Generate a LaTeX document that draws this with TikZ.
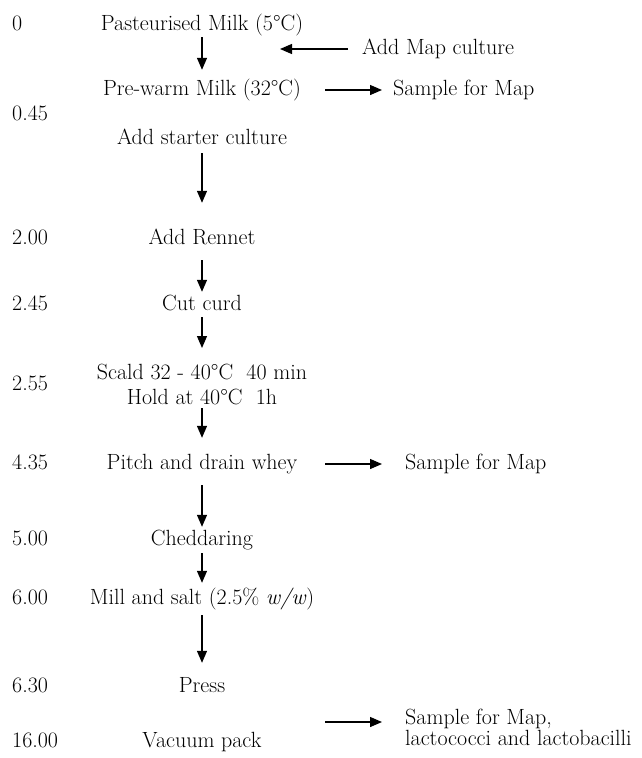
\documentclass[tikz,border=0pt]{standalone}
\usepackage{fontspec}
\usetikzlibrary{arrows.meta}
\begin{document}
\begin{tikzpicture}[x=1pt,y=-1pt,
  lbl/.style={font=\rmfamily\fontsize{22}{25}\selectfont, inner sep=0pt, text height=15pt, text depth=5pt},
  main/.style={lbl, anchor=base},
  tm/.style={lbl, anchor=base west},
  side/.style={lbl, anchor=base west},
  arr/.style={line width=1.3pt, -{Triangle[length=12pt,width=10pt]}}]
\useasboundingbox[fill=white] (0,0) rectangle (642,758);

% time labels
\node[tm] (t1) at (12,30) {0};
\node[tm] (t2) at (12,120) {0.45};
\node[tm] (t3) at (12,244) {2.00};
\node[tm] (t4) at (12,310) {2.45};
\node[tm] (t5) at (12,390) {2.55};
\node[tm] (t6) at (12,469) {4.35};
\node[tm] (t7) at (12,545) {5.00};
\node[tm] (t8) at (12,604) {6.00};
\node[tm] (t9) at (12,692) {6.30};
\node[tm] (t10) at (12,747) {16.00};

% main steps
\node[main] (m1) at (202,30) {Pasteurised Milk (5\textdegree C)};
\node[main] (m2) at (202,95) {Pre-warm Milk (32\textdegree C)};
\node[main] (m3) at (202,144) {Add starter culture};
\node[main] (m4) at (202,244) {Add Rennet};
\node[main] (m5) at (202,310) {Cut curd};
\node[font=\rmfamily\fontsize{22}{25}\selectfont, inner sep=0pt, align=center, anchor=north] (m6) at (202,364)
  {Scald 32 - 40\textdegree C\ \ 40 min\\Hold at 40\textdegree C\ \ 1h};
\node[main] (m7) at (202,469) {Pitch and drain whey};
\node[main] (m8) at (202,545) {Cheddaring};
\node[main] (m9) at (202,604) {Mill and salt (2.5\% \textit{w/w})};
\node[main] (m10) at (202,692) {Press};
\node[main] (m11) at (202,747) {Vacuum pack};

% side texts
\node[side] (add) at (362,54) {Add Map culture};
\node[side] (sm1) at (393,95) {Sample for Map};
\node[side] (sm2) at (405,469) {Sample for Map};
\node[font=\rmfamily\fontsize{22}{19}\selectfont, inner sep=0pt, align=left, anchor=north west] (sm3) at (405,709)
  {Sample for Map,\\lactococci and lactobacilli};

% vertical arrows
\draw[arr, shorten <=2pt, shorten >=10pt] (m1.south) -- (m2.north);
\draw[arr, shorten <=4pt, shorten >=26pt] (m3.south) -- (m4.north);
\draw[arr, shorten <=11pt, shorten >=3pt] (m4.south) -- (m5.north);
\draw[arr, shorten <=2pt, shorten >=16pt] (m5.south) -- (m6.north);
\draw[arr, shorten <=3pt, shorten >=16pt] (m6.south) -- (m7.north);
\draw[arr, shorten <=11pt, shorten >=3pt] (m7.south) -- (m8.north);
\draw[arr, shorten <=3pt, shorten >=6pt] (m8.south) -- (m9.north);
\draw[arr, shorten <=6pt, shorten >=14pt] (m9.south) -- (m10.north);

% side arrows
\coordinate (c1) at (280,48);
\draw[arr, shorten <=14pt] (add.west) -- (add.west -| c1);
\coordinate (c2) at (325,90);
\draw[arr, shorten >=11pt] (c2) -- (c2 -| sm1.west);
\coordinate (c3) at (325,464);
\draw[arr, shorten >=23pt] (c3) -- (c3 -| sm2.west);
\coordinate (c4) at (325,722);
\draw[arr, shorten >=23pt] (c4) -- (c4 -| sm3.west);
\end{tikzpicture}
\end{document}
